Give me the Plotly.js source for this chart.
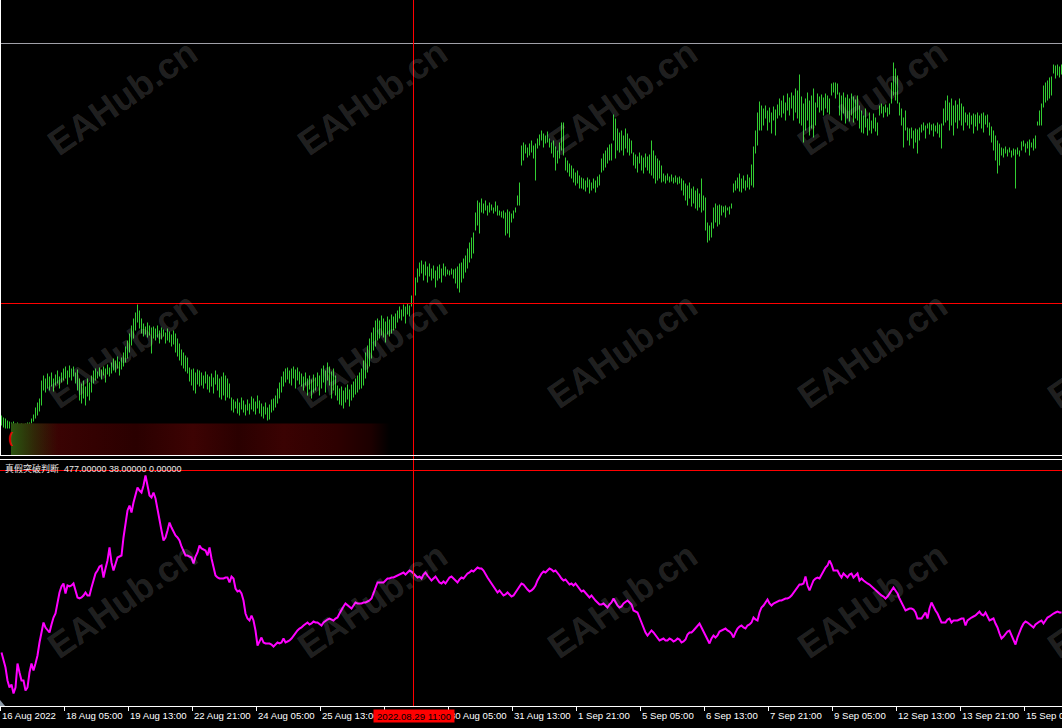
<!DOCTYPE html>
<html><head><meta charset="utf-8">
<script src="https://cdn.plot.ly/plotly-3.0.1.min.js"></script>
<style>html,body{margin:0;padding:0;background:#000;overflow:hidden}#chart{width:1062px;height:728px}</style>
</head><body><div id="chart"></div>
<script>
// H1 bars, one per hour (weekends skipped), bar 0 = 16 Aug 2022 21:00
const highs = [
185,183,182,180,179,178,179,177,178,176,
177,176,177,178,178,182,186,193,198,202,
220,225,222,227,224,228,222,226,230,224,
228,232,234,230,235,232,234,228,231,222,
217,220,214,222,218,225,230,232,229,233,
231,234,232,236,233,238,242,240,244,239,
243,248,254,260,267,275,282,288,296,290,
282,277,274,278,275,273,274,272,275,270,
273,271,268,272,269,266,270,267,262,257,
251,248,245,243,233,231,232,228,231,230,
228,225,229,226,224,227,223,230,226,222,
224,228,225,222,217,203,201,199,202,198,
203,200,196,201,197,204,202,199,205,200,
197,194,198,193,196,201,202,205,212,218,
224,229,232,233,230,232,234,231,233,229,
227,224,228,222,225,221,226,223,228,225,
232,235,230,238,234,229,232,225,215,212,
214,210,213,216,211,216,219,222,225,228,
232,240,248,255,262,268,273,280,282,280,
285,282,279,284,281,286,284,287,290,294,
291,296,294,297,295,305,305,323,332,338,
340,336,339,334,337,332,335,330,334,336,
332,337,334,331,330,332,331,332,334,337,
338,342,345,352,358,363,368,388,400,398,
402,397,400,395,398,396,393,399,395,390,
389,390,388,391,389,387,390,393,405,418,
455,458,456,453,457,460,455,457,462,466,
470,467,465,469,462,458,460,454,450,458,
478,478,443,440,437,435,432,428,430,425,
423,422,420,423,421,418,422,420,424,426,
442,447,450,453,456,457,486,482,472,468,
470,465,472,467,462,460,448,446,444,448,
445,443,447,444,446,460,450,445,442,440,
435,427,425,427,424,426,423,425,423,424,
422,420,417,415,418,412,414,410,412,407,422,405,
403,378,375,378,393,397,395,396,
395,394,395,393,394,397,417,420,423,427,
422,425,420,426,423,436,454,470,488,499,
495,492,495,490,493,488,494,491,496,502,
500,505,498,507,503,508,505,512,510,526,
504,497,502,508,500,505,512,498,507,504,
506,503,507,505,502,517,518,518,517,508,
505,508,503,506,502,507,504,501,505,495,
490,485,492,482,488,480,487,483,478,495,
497,494,496,493,497,518,538,532,525,498,
492,483,490,473,472,473,470,472,471,473,
476,478,475,477,478,476,477,475,478,476,
477,492,500,505,498,502,495,500,496,502,
497,494,488,486,488,485,487,486,488,485,
487,488,485,486,478,474,470,465,460,457,
453,452,454,451,453,450,452,451,453,450,
459,460,457,459,461,458,462,465,479,490,
497,515,518,520,523,524,536,535,536,534,536
];
const lows = [
175,173,172,172,172,171,170,169,170,168,
169,168,170,171,173,177,179,182,185,189,
195,210,208,212,210,214,209,215,217,212,
218,220,222,216,223,220,224,217,210,200,
197,202,195,204,200,208,217,220,222,224,
221,225,218,226,224,227,230,228,232,225,
231,234,238,242,248,255,262,270,278,272,
267,264,266,263,265,247,262,260,263,257,
261,264,257,260,258,254,256,248,244,240,
235,232,229,227,219,215,210,207,216,214,
215,212,217,211,208,214,207,216,210,203,
201,205,200,203,202,190,188,192,187,185,
191,188,185,190,186,191,189,186,192,187,
184,182,186,180,181,188,190,193,197,202,
208,214,218,221,217,215,222,212,220,216,
214,210,215,205,211,202,208,210,214,205,
212,218,208,220,215,202,210,205,200,196,
195,192,198,201,194,200,203,206,208,211,
212,215,222,228,234,242,250,254,260,262,
265,263,258,266,264,267,270,272,278,282,
280,284,277,286,284,294,297,305,318,324,
327,320,325,318,324,320,322,313,320,322,
318,325,324,326,325,326,322,317,312,308,
318,322,328,332,338,342,347,370,375,367,
388,387,390,385,388,390,387,389,385,385,
383,382,365,367,363,378,382,388,395,395,
435,440,447,443,445,448,442,420,452,455,
460,453,457,458,453,447,443,430,437,442,
450,445,430,428,424,422,418,415,417,412,
412,411,409,413,407,410,412,408,413,415,
428,430,433,437,440,440,460,442,450,448,
450,445,452,448,445,447,435,432,428,437,
430,427,433,430,427,425,422,417,420,422,
418,419,417,420,418,419,417,418,416,417,
410,405,400,395,402,394,397,392,390,393,388,390,
370,358,360,363,372,378,374,376,
385,388,383,390,386,392,408,410,412,409,
408,412,410,413,411,415,413,447,455,470,
470,475,482,470,478,467,480,465,482,485,
483,487,480,490,485,492,480,488,482,477,
475,458,470,480,465,472,463,475,493,488,
490,485,492,488,486,505,508,502,506,485,
480,487,477,482,479,485,478,482,480,472,
468,467,473,465,470,467,472,469,465,485,
487,483,488,484,486,497,505,500,497,485,
475,453,470,460,455,462,452,458,447,460,
468,470,462,472,466,470,464,469,467,463,
452,475,478,480,470,475,465,478,472,480,
475,470,478,475,472,476,467,474,470,477,
472,468,476,473,465,458,450,440,427,435,
445,443,447,444,448,443,445,412,446,444,
450,454,448,452,445,453,450,452,475,475,
475,493,498,500,502,505,527,522,525,523,526
];
// indicator "真假突破判断" main buffer
const indicator = [
113,97,83,57,43,49,31,43,91,73,
57,57,37,43,73,91,77,91,107,133,
153,173,163,157,153,169,183,191,213,233,
245,251,231,247,245,247,251,237,223,221,
223,227,233,227,227,243,257,271,277,285,
287,263,281,297,323,293,277,293,303,305,
307,343,373,397,407,393,413,429,443,437,
433,447,467,447,427,423,433,421,397,373,
357,337,343,357,373,363,353,347,343,337,
325,317,307,307,305,303,291,305,313,327,
321,319,317,307,323,301,283,267,263,261,
261,261,263,263,253,265,261,241,235,237,
231,217,191,181,177,187,177,157,127,137,
143,133,131,131,131,129,125,129,133,131,
133,141,133,135,137,141,147,153,157,161,
163,167,171,173,169,171,175,173,173,169,
167,173,177,179,181,179,177,181,183,191,
199,205,211,207,203,201,207,213,211,211,
211,213,213,215,217,221,231,243,253,253,
253,253,257,261,261,263,263,265,267,269,
271,273,269,273,277,275,271,267,263,265,
261,269,273,267,261,257,261,265,259,253,
251,255,251,257,263,265,261,257,253,259,
263,261,267,271,273,277,275,279,283,281,
281,277,269,263,257,251,245,237,233,237,
233,227,229,233,229,225,227,233,241,247,
251,249,243,239,235,237,241,247,257,265,
271,275,273,277,281,279,275,277,273,267,
261,257,259,253,249,251,247,251,245,239,
235,237,233,227,223,227,221,217,213,209,
209,211,207,203,209,213,221,213,207,203,
205,211,215,217,213,209,197,195,193,183,
173,161,153,147,153,157,153,147,141,137,
139,141,137,137,141,139,135,137,141,139,
133,135,139,149,153,153,157,161,167,171,
163,153,147,139,131,141,147,143,147,155,
157,159,161,157,155,151,143,153,161,165,
167,163,161,167,169,173,183,179,177,193,
203,207,213,219,211,207,211,213,215,217,
217,219,221,221,223,227,233,239,243,249,
249,251,265,247,237,247,257,261,263,261,
269,277,283,287,297,289,277,277,277,269,
263,271,267,263,269,271,263,267,271,257,
261,257,253,251,249,245,241,237,233,229,
227,225,221,225,231,237,243,237,231,221,
213,203,197,199,201,201,199,193,181,181,
181,187,193,181,201,213,203,197,191,181,
173,173,173,179,181,173,177,177,177,179,
181,181,167,177,181,183,185,187,191,195,
189,187,193,185,177,179,181,171,163,151,
141,145,151,155,157,147,137,129,143,155,
163,171,175,173,169,165,163,169,173,175,
177,171,177,183,185,189,191,193,195,193,193
];
const tickBars = [0,32,64,96,128,160,192,224,256,288,320,352,384,416,448,480,512];
const tickLabels = ['16 Aug 2022','18 Aug 05:00','19 Aug 13:00','22 Aug 21:00','24 Aug 05:00','25 Aug 13:00','26 Aug 21:00','30 Aug 05:00','31 Aug 13:00','1 Sep 21:00','5 Sep 05:00','6 Sep 13:00','7 Sep 21:00','9 Sep 05:00','12 Sep 13:00','13 Sep 21:00','15 Sep 05:00'];
const crossBar = 206;
const crossLabel = '2022.08.29 11:00';
const crossPrice = 297;
const grayLevel = 557;
const indLevel = 477;
const indName = '真假突破判断';
const indValues = ['477.00000', '38.00000', '0.00000'];
const zoneBars = [4.75, 194.25];
const zonePrices = [145, 177];
const watermark = 'EAHub.cn';
const wmCols = [122, 372, 622, 872, 1122];
const wmRows = [97, 350, 600];

const W = 1062, PH = 706;
const py = p => (PH - p) / PH;
const px = p => p / W;
const axisFont = 'Liberation Sans, Arial, sans-serif';

const n = highs.length;
const bx = [], by = [];
for (let i = 0; i < n; i++) { bx.push(i, i, null); by.push(lows[i], highs[i], null); }
const idx = indicator.map((_, i) => i);

const zx = [zoneBars[0],zoneBars[1],zoneBars[1],zoneBars[0],zoneBars[0]];
const zy = [zonePrices[1],zonePrices[1],zonePrices[0],zonePrices[0],zonePrices[1]];
const gx = [zoneBars[0],zoneBars[0]+24,zoneBars[0]+24,zoneBars[0],zoneBars[0]];
const traces = [
  {type:'scatter', mode:'lines', x:bx, y:by, xaxis:'x', yaxis:'y', line:{color:'#32cd32', width:1}, hoverinfo:'skip', connectgaps:false},
  {type:'scatter', mode:'lines', x:zx, y:zy, xaxis:'x', yaxis:'y', fill:'toself', line:{width:0}, hoverinfo:'skip',
   fillgradient:{type:'horizontal', colorscale:[[0,'#2a2a06'],[0.06,'#341004'],[0.12,'#3a0303'],[0.22,'#330101'],[0.33,'#2a0000'],[0.48,'#3d0303'],[0.6,'#2a0000'],[0.72,'#3a0202'],[0.86,'#2d0000'],[0.95,'#1c0000'],[1,'#000000']]}},
  {type:'scatter', mode:'lines', x:gx, y:zy, xaxis:'x', yaxis:'y', fill:'toself', line:{width:0}, hoverinfo:'skip',
   fillgradient:{type:'horizontal', colorscale:[[0,'rgba(44,90,18,0.9)'],[0.4,'rgba(44,70,12,0.55)'],[1,'rgba(44,40,6,0)']]}},
  {type:'scatter', mode:'lines', x:idx, y:indicator, xaxis:'x', yaxis:'y2', line:{color:'#ff00ff', width:2}, hoverinfo:'skip'}
];

const shapes = [
  {type:'line', xref:'paper', x0:0, x1:1, yref:'y', y0:grayLevel, y1:grayLevel, line:{color:'#a0a0a8', width:1}},
  {type:'line', xref:'paper', x0:0, x1:1, yref:'y', y0:crossPrice, y1:crossPrice, line:{color:'#ff0000', width:1}},
  {type:'line', xref:'paper', x0:0, x1:1, yref:'y2', y0:indLevel, y1:indLevel, line:{color:'#ff0000', width:1}},
  {type:'line', xref:'x', x0:crossBar, x1:crossBar, yref:'paper', y0:0, y1:1, line:{color:'#ff0000', width:1}},
  {type:'line', xref:'paper', x0:0, x1:1, yref:'paper', y0:py(455.5), y1:py(455.5), line:{color:'#ffffff', width:1}},
  {type:'line', xref:'paper', x0:0, x1:1, yref:'paper', y0:py(459.5), y1:py(459.5), line:{color:'#ffffff', width:1}},
  {type:'line', xref:'paper', x0:px(0.5), x1:px(0.5), yref:'paper', y0:py(456), y1:1, line:{color:'#ffffff', width:1}},
  {type:'path', xref:'paper', yref:'paper', path:`M 0 ${py(700)} L 0 ${py(706)} L ${px(5)} ${py(706)} Z`, fillcolor:'#8d9aa8', line:{width:0}}
];

const annotations = [];
for (const cy of wmRows) for (const cx of wmCols) {
  annotations.push({xref:'paper', yref:'paper', x:px(cx), y:py(cy), xanchor:'center', yanchor:'middle', text:watermark, showarrow:false, textangle:-35,
    font:{family:'Liberation Sans, Arial, sans-serif', size:36, weight:'bold', color:'rgba(255,255,255,0.15)'}});
}
annotations.push({xref:'paper', yref:'paper', x:px(10), y:py(438), xanchor:'center', yanchor:'middle', text:'(', showarrow:false,
  font:{family:'Liberation Sans, Arial, sans-serif', size:14, weight:'bold', color:'#e00000'}});
annotations.push({xref:'paper', yref:'paper', x:px(4), y:py(468.5), xanchor:'left', yanchor:'middle', showarrow:false,
  text: indName + '  ' + indValues.join(' '), borderpad:0,
  font:{family:'Liberation Sans, Noto Sans CJK SC, sans-serif', size:9, color:'#e8e8e8'}});
tickBars.forEach((b, k) => {
  if (Math.abs(b - crossBar) < 16) return; // fully hidden under the crosshair date box
  annotations.push({xref:'x', yref:'paper', x:b - 0.5, y:py(716), xanchor:'left', yanchor:'middle', xshift:0, showarrow:false, borderpad:0,
    text:tickLabels[k], font:{family:axisFont, size:9.6, color:'#ffffff'}});
});
annotations.push({xref:'x', yref:'paper', x:crossBar, y:py(715.5), xanchor:'center', yanchor:'middle', showarrow:false, borderpad:0,
  width:80, height:12, bgcolor:'#ff0000', text:crossLabel, font:{family:axisFont, size:9.6, color:'#000000'}});

const layout = {
  width:W, height:728, margin:{l:0, r:0, t:0, b:22, pad:0},
  paper_bgcolor:'#000000', plot_bgcolor:'#000000', showlegend:false,
  xaxis:{domain:[0,1], anchor:'y2', range:[-0.75, 530.25], showgrid:false, zeroline:false, showline:true, linecolor:'#ffffff', linewidth:1,
    ticks:'outside', ticklen:4, tickwidth:1, tickcolor:'#ffffff', tickmode:'array', tickvals:tickBars.map(b => b - 0.5), showticklabels:false, fixedrange:true},
  yaxis:{domain:[(PH-456)/PH, 1], range:[144.5, 600.5], visible:false, fixedrange:true},
  yaxis2:{domain:[0, (PH-460)/PH], range:[6, 498], visible:false, fixedrange:true},
  shapes:shapes, annotations:annotations
};
Plotly.newPlot('chart', traces, layout, {staticPlot:true, displayModeBar:false});
</script>
</body></html>
